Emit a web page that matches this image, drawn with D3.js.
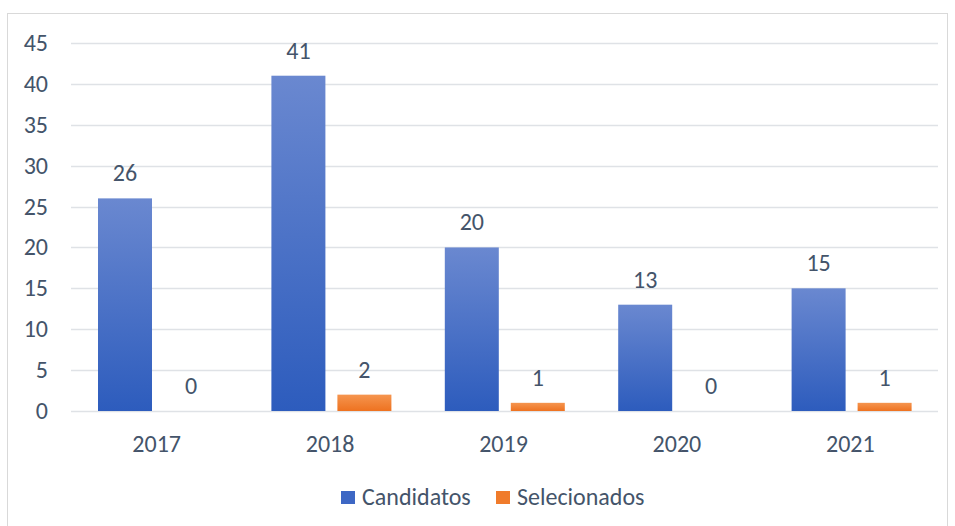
<!DOCTYPE html>
<html>
<head>
<meta charset="utf-8" />
<title>Candidatos x Selecionados</title>
<script src="https://cdnjs.cloudflare.com/ajax/libs/d3/7.8.5/d3.min.js"></script>
<style>
  body { margin: 0; background: #fff; }
  text { font-family: Carlito, "Open Sans", "Noto Sans", sans-serif; fill: #44546a; font-size: 24px; }
</style>
</head>
<body>
<svg id="chart" width="955" height="526"></svg>
<script>
  const years = ['2017', '2018', '2019', '2020', '2021']
  const candidatos = [26, 41, 20, 13, 15]
  const selecionados = [0, 2, 1, 0, 1]
  const yTicks = [0, 5, 10, 15, 20, 25, 30, 35, 40, 45]
  const seriesNames = ['Candidatos', 'Selecionados']

  const svg = d3.select('#chart')

  // outer frame
  svg.append('rect')
    .attr('x', 7.5).attr('y', 13.5).attr('width', 940).attr('height', 520)
    .style('fill', '#fff').style('stroke', '#d9d9d9')

  const defs = svg.append('defs')
  const grads = [['gBlue', '#6a88d0', '#2d5cbd'], ['gOrange', '#f5954f', '#ee7220']]
  grads.forEach(function (g) {
    const lg = defs.append('linearGradient').attr('id', g[0])
      .attr('x1', 0).attr('y1', 0).attr('x2', 0).attr('y2', 1)
    lg.append('stop').attr('offset', '0%').attr('stop-color', g[1])
    lg.append('stop').attr('offset', '100%').attr('stop-color', g[2])
  })

  const xScale = d3.scaleBand().domain(years).range([71, 938])
  const yScale = d3.scaleLinear().domain([0, 45]).range([411, 43])

  // gridlines
  svg.append('g')
    .selectAll('line')
    .data(yTicks)
    .enter()
    .append('line')
    .attr('x1', 71).attr('x2', 938)
    .attr('y1', function (d) { return Math.round(yScale(d)) + 0.5 })
    .attr('y2', function (d) { return Math.round(yScale(d)) + 0.5 })
    .style('stroke', '#dfe2e6').style('stroke-width', 1.5)

  // y labels
  svg.append('g')
    .selectAll('text')
    .data(yTicks)
    .enter()
    .append('text')
    .attr('x', 48)
    .attr('y', function (d) { return yScale(d) + 8 })
    .attr('text-anchor', 'end')
    .text(function (d) { return d })

  // x labels
  svg.append('g')
    .selectAll('text')
    .data(years)
    .enter()
    .append('text')
    .attr('x', function (d) { return xScale(d) + xScale.bandwidth() / 2 - 1 })
    .attr('y', 452)
    .attr('text-anchor', 'middle')
    .text(function (d) { return d })

  const barW = 54
  const offsets = [27, 93]
  const seriesData = [candidatos, selecionados]
  const fills = ['url(#gBlue)', 'url(#gOrange)']

  seriesData.forEach(function (vals, s) {
    const g = svg.append('g')
    g.selectAll('rect')
      .data(vals)
      .enter()
      .append('rect')
      .attr('x', function (d, i) { return xScale(years[i]) + offsets[s] })
      .attr('y', function (d) { return yScale(d) })
      .attr('width', barW)
      .attr('height', function (d) { return yScale(0) - yScale(d) })
      .style('fill', fills[s])

    g.selectAll('text')
      .data(vals)
      .enter()
      .append('text')
      .attr('x', function (d, i) { return xScale(years[i]) + offsets[s] + barW / 2 })
      .attr('y', function (d) { return yScale(d) - 17 })
      .attr('text-anchor', 'middle')
      .text(function (d) { return d })
  })

  // legend
  const legendX = [341, 496]
  const legendFill = ['#3d67c4', '#f07b2b']
  seriesNames.forEach(function (name, i) {
    svg.append('rect')
      .attr('x', legendX[i]).attr('y', 491).attr('width', 14).attr('height', 13)
      .style('fill', legendFill[i])
    svg.append('text')
      .attr('x', legendX[i] + 21).attr('y', 505)
      .text(name)
  })
</script>
</body>
</html>
